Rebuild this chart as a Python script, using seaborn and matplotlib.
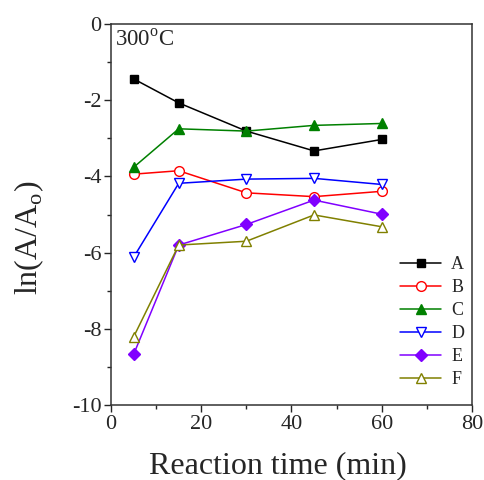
import pandas as pd
import matplotlib
matplotlib.use('Agg')
import matplotlib.pyplot as plt
import seaborn as sns
from matplotlib.ticker import MultipleLocator

time = [5, 15, 30, 45, 60]
A = [-1.44, -2.07, -2.81, -3.33, -3.03]
B = [-3.94, -3.85, -4.43, -4.53, -4.39]
C = [-3.76, -2.75, -2.81, -2.66, -2.61]
D = [-6.12, -4.18, -4.07, -4.05, -4.21]
E = [-8.67, -5.80, -5.26, -4.62, -4.99]
F = [-8.21, -5.80, -5.70, -5.01, -5.32]
names = ['A', 'B', 'C', 'D', 'E', 'F']

sns.set_style('ticks')
plt.rcParams['font.family'] = ['Liberation Serif', 'DejaVu Serif']
plt.rcParams['mathtext.fontset'] = 'custom'
plt.rcParams['mathtext.rm'] = 'Liberation Serif'
plt.rcParams['axes.unicode_minus'] = False

# (color, marker, filled, size)
styles = [('black', 's', True, 6),
          ('red', 'o', False, 7),
          ('green', '^', True, 7.5),
          ('blue', 'v', False, 7.5),
          ('#8000ff', 'D', True, 6),
          ('#808000', '^', False, 7.5)]

fig = plt.figure(figsize=(4.85, 4.8), dpi=100)
ax = fig.add_axes([0.229, 0.156, 0.744, 0.794])
for name, vals, (c, m, filled, ms) in zip(names, [A, B, C, D, E, F], styles):
    df = pd.DataFrame({'t': time, 'v': vals})
    sns.lineplot(data=df, x='t', y='v', ax=ax, color=c, marker=m, markersize=ms,
                 markerfacecolor=c if filled else 'white', markeredgecolor=c,
                 markeredgewidth=1.0, linewidth=1.1, label=name)

ax.set_xlim(0, 80)
ax.set_ylim(-10, 0)
ax.xaxis.set_major_locator(MultipleLocator(20))
ax.xaxis.set_minor_locator(MultipleLocator(10))
ax.yaxis.set_major_locator(MultipleLocator(2))
ax.yaxis.set_minor_locator(MultipleLocator(1))
ax.tick_params(which='major', direction='out', length=5, width=1, labelsize=16, pad=2)
ax.tick_params(which='minor', direction='out', length=3, width=1)
for s in ax.spines.values():
    s.set_visible(True)
    s.set_linewidth(1.1)
    s.set_color('#333333')

ax.set_xlabel('Reaction time (min)', fontsize=23)
ax.xaxis.set_label_coords(0.463, -0.122)
ax.set_ylabel('ln(A/A$_\\mathrm{o}$)', fontsize=23)
ax.yaxis.set_label_coords(-0.179, 0.438)
ax.text(0.01, 0.985, '300$^\\mathrm{o}$C', transform=ax.transAxes, fontsize=16.5,
        va='top', ha='left')
ax.legend(loc='lower left', frameon=False, fontsize=13, handlelength=2.3,
          handletextpad=0.55, labelspacing=0.33, borderaxespad=0, borderpad=0,
          bbox_to_anchor=(0.80, 0.045))

fig.savefig('out.png', dpi=100)
